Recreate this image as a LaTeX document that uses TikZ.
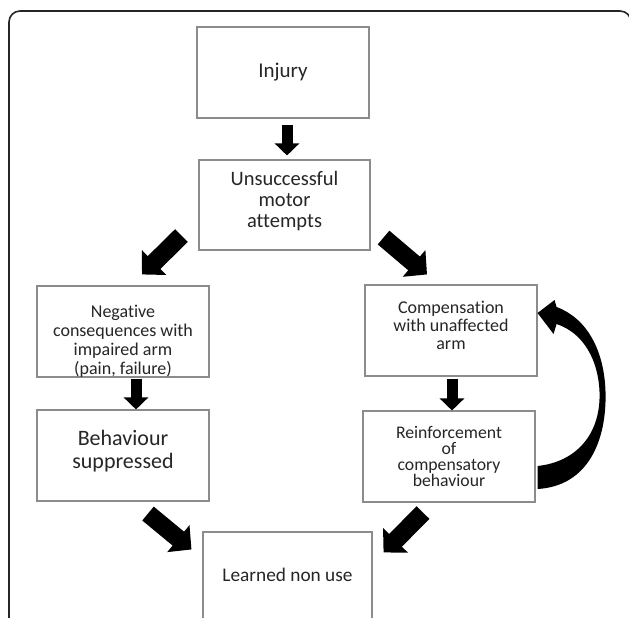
\documentclass[tikz,border=0pt]{standalone}
\usepackage{fontspec}
\setmainfont[Ligatures=NoCommon]{Carlito}
\usetikzlibrary{arrows.meta,calc}
\tikzset{
  box/.style={draw=black!45, line width=1.1pt, fill=white, text=black!85,
    minimum width=172pt, minimum height=91pt, inner sep=0pt, align=center},
  boxtext/.style={text=black!85, inner sep=0pt, align=center},
  downarrow/.style={line width=11pt, -{Triangle[length=12pt,width=24pt]}},
  slantarrow/.style={line width=18pt, -{Triangle[length=17pt,width=34pt]}}
}

\begin{document}
\begin{tikzpicture}[x=1pt, y=-1pt]
\useasboundingbox (0,0) rectangle (629,618);
\clip (0,0) rectangle (629,618);
% Frame
    \draw[line width=1.6pt, black!85, rounded corners=11pt] (9,11) rectangle (631,720);
% Boxes
    \node[box, font=\fontsize{21}{24}\selectfont] (inj) at (283,72.5) {Injury};
    \node[box, minimum width=171pt, minimum height=90pt,
        label={[boxtext, yshift=4pt, font=\fontsize{20.5}{21}\selectfont]center:Unsuccessful\\motor\\attempts}]
        (uns) at (284.5,205) {};
    \node[box, label={[boxtext, yshift=-10pt, font=\fontsize{18}{19}\selectfont]center:{Negative\\consequences with\\impaired arm\\(pain, failure)}}]
        (neg) at (123,331.5) {};
    \node[box, label={[boxtext, yshift=4pt, font=\fontsize{22}{23}\selectfont]center:Behaviour\\suppressed}]
        (beh) at (123,455.5) {};
    \node[box, label={[boxtext, yshift=5pt, font=\fontsize{18}{18}\selectfont]center:Compensation\\with unaffected\\arm}]
        (comp) at (451,330.5) {};
    \node[box, font=\fontsize{17.7}{16}\selectfont] (rein) at (449,456.5)
        {Reinforcement\\of\\compensatory\\behaviour};
    \node[box, minimum width=169pt, label={[boxtext, yshift=3pt, font=\fontsize{19.3}{21}\selectfont]center:Learned non use}]
        (learn) at (287.5,577.5) {};
% Arrows
    \draw[downarrow] ($(inj.south)+(4,6)$) -- ($(uns.north)+(2.5,-4)$);
    \draw[downarrow] ($(neg.south)+(13,1)$) -- ($(beh.north)+(13,0)$);
    \draw[downarrow] ($(comp.south)+(1,2)$) -- ($(rein.north)+(3,0)$);
    \draw[slantarrow] ($(uns.south west)+(-17,-15)$) -- ($(neg.north)+(19,-11)$);
    \draw[slantarrow] ($(uns.south east)+(13,-13)$) -- ($(comp.north)+(-24,-10)$);
    \draw[slantarrow] ($(beh.south)+(25,12)$) -- ($(learn.north west)+(-11,18)$);
    \draw[slantarrow] ($(rein.south)+(-26,10)$) -- ($(learn.north east)+(11,21)$);
% Loop back
    \begin{scope}[shift={(comp.east)}]
    \fill (0,158.5) .. controls (51,155.5) and (69,109.5) .. (68,62.5)
        .. controls (67,19.5) and (49,-12.5) .. (19,-23.5)
        -- (17,-30.5) -- (0,-17.5) -- (16,3.5) -- (19,-6.5)
        .. controls (46,2.5) and (61,29.5) .. (62,62.5)
        .. controls (63,104.5) and (38,131.5) .. (0,135.5) -- cycle;
    \end{scope}
\end{tikzpicture}
\end{document}
